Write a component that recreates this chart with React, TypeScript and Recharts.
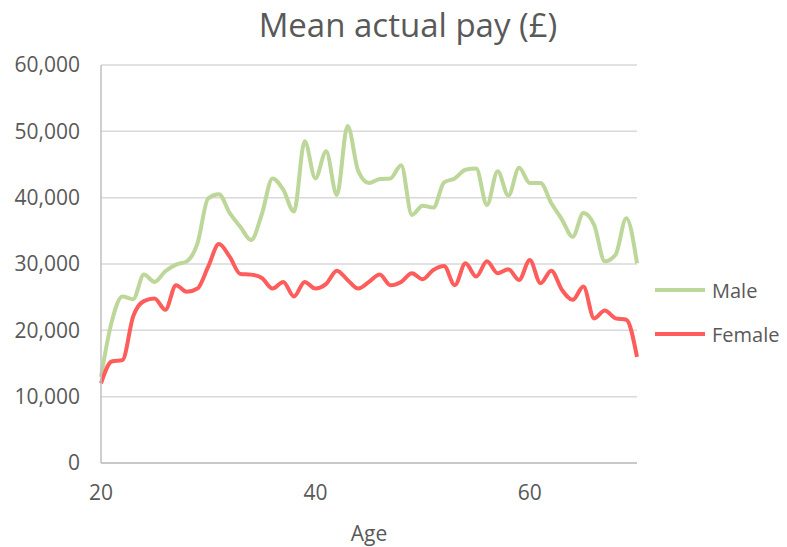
import React from "react";
import { LineChart, Line, XAxis, YAxis, CartesianGrid } from "recharts";

const ages = [
    20, 21, 22, 23, 24, 25, 26, 27, 28, 29, 30, 31, 32, 33, 34, 35, 36, 37, 38,
    39, 40, 41, 42, 43, 44, 45, 46, 47, 48, 49, 50, 51, 52, 53, 54, 55, 56, 57,
    58, 59, 60, 61, 62, 63, 64, 65, 66, 67, 68, 69, 70,
];

const male = [
    13000, 21300, 25100, 24700, 28400, 27300, 28900, 29900, 30400, 33100,
    39900, 40500, 37700, 35600, 33600, 37500, 42900, 41200, 37900, 48500,
    42900, 47000, 40400, 50800, 44000, 42200, 42800, 42900, 44900, 37400,
    38800, 38500, 42300, 42900, 44200, 44400, 38900, 44000, 40300, 44500,
    42200, 42200, 39200, 36700, 34100, 37700, 35900, 30400, 31400, 36900,
    30100,
];

const female = [
    12000, 15300, 15500, 22100, 24400, 24800, 23100, 26800, 25800, 26300,
    29600, 33000, 31100, 28500, 28400, 27900, 26300, 27300, 25100, 27300,
    26300, 27000, 29000, 27600, 26300, 27300, 28400, 26800, 27300, 28600,
    27700, 29100, 29700, 26800, 30100, 28100, 30400, 28600, 29200, 27600,
    30600, 27100, 29000, 26100, 24600, 26600, 21800, 23000, 21800, 21600,
    16000,
];

const yTicks = [0, 10000, 20000, 30000, 40000, 50000, 60000];
const xTicks = [20, 40, 60];

const data = ages.map((age, i) => ({
    age,
    Male: male[i],
    Female: female[i],
}));

const series = [
    { key: "Male", color: "#bdd699" },
    { key: "Female", color: "#ff5c5c" },
];

const FONT = "'Open Sans', sans-serif";
const TEXT = "#595959";

export default function App() {
    return (
        <div
            style={{
                position: "absolute",
                left: 0,
                top: 0,
                width: 787,
                height: 547,
                background: "#fff",
            }}
        >
            <div
                style={{
                    position: "absolute",
                    left: 0,
                    width: 816,
                    top: 2,
                    textAlign: "center",
                    fontFamily: FONT,
                    fontSize: 33,
                    color: TEXT,
                }}
            >
                Mean actual pay (£)
            </div>
            {/* legend kept outside the chart so it does not shrink the plot */}
            <div
                style={{
                    position: "absolute",
                    left: 655,
                    top: 268,
                    fontFamily: FONT,
                    color: TEXT,
                    fontSize: 20,
                }}
            >
                {series.map((s) => (
                    <div
                        key={s.key}
                        style={{ display: "flex", alignItems: "center", height: 44 }}
                    >
                        <span
                            style={{
                                display: "inline-block",
                                width: 50,
                                height: 4,
                                background: s.color,
                                marginRight: 7,
                            }}
                        />
                        <span>{s.key}</span>
                    </div>
                ))}
            </div>
            <LineChart
                width={787}
                height={547}
                data={data}
                margin={{ top: 65, right: 150, bottom: 4, left: 0 }}
            >
                <CartesianGrid
                    vertical={false}
                    stroke="#d9d9d9"
                    strokeWidth={1.5}
                />
                <XAxis
                    dataKey="age"
                    type="number"
                    domain={[20, 70]}
                    ticks={xTicks}
                    height={80}
                    tickLine={false}
                    tickMargin={16}
                    axisLine={{ stroke: "#bfbfbf", strokeWidth: 1.5 }}
                    tick={{ fill: TEXT, fontSize: 21, fontFamily: FONT }}
                    label={{
                        value: "Age",
                        position: "insideBottom",
                        offset: 2,
                        fill: TEXT,
                        fontSize: 21,
                        fontFamily: FONT,
                    }}
                />
                <YAxis
                    width={101}
                    domain={[0, 60000]}
                    ticks={yTicks}
                    tickLine={false}
                    tickMargin={15}
                    axisLine={{ stroke: "#bfbfbf", strokeWidth: 1.5 }}
                    tickFormatter={(v: number) => v.toLocaleString("en-GB")}
                    tick={{ fill: TEXT, fontSize: 21, fontFamily: FONT }}
                />
                {series.map((s) => (
                    <Line
                        key={s.key}
                        type="monotone"
                        dataKey={s.key}
                        stroke={s.color}
                        strokeWidth={4}
                        dot={false}
                        isAnimationActive={false}
                    />
                ))}
            </LineChart>
        </div>
    );
}
